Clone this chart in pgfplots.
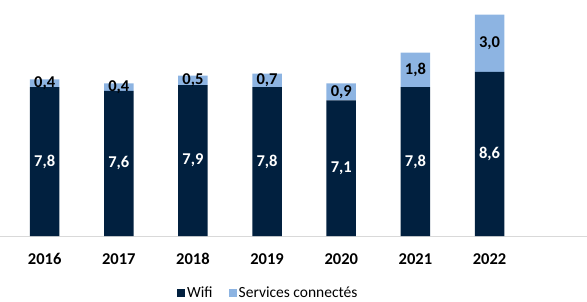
\documentclass[border=0pt]{standalone}
\usepackage{pgfplots}
\pgfplotsset{compat=1.18}
\usepackage{fontspec}
\setmainfont{Carlito}
\definecolor{navy}{HTML}{01203F}
\definecolor{lblue}{HTML}{8DB4E2}
\begin{document}
\begin{tikzpicture}
\pgfplotsset{common/.style={width=587pt,height=236pt,scale only axis,xmin=-0.603,xmax=7.315,ymin=0,ymax=12.36,clip=false}}
\begin{axis}[common, ybar stacked, bar width=29.5pt,
  axis x line=bottom, axis y line=none,
  x axis line style={-, draw=black!15, line width=1pt},
  xtick={0,1,2,3,4,5,6},
  xticklabels={2016,2017,2018,2019,2020,2021,2022},
  major tick length=0pt,
  xticklabel style={font=\bfseries\fontsize{16.5}{16.5}\selectfont, yshift=-14pt},
  legend columns=2,
  legend style={draw=none, at={(axis description cs:0.457,-0.242)}, anchor=center,
    font=\fontsize{15.5}{16}\selectfont,
    /tikz/every even column/.append style={column sep=14pt}},
  legend image code/.code={\fill[#1] (0pt,-4pt) rectangle (8pt,4pt);},
]
\addplot[fill=navy, draw=none] coordinates {(0,7.8)(1,7.6)(2,7.9)(3,7.8)(4,7.1)(5,7.8)(6,8.6)};
\addplot[fill=lblue, draw=none] coordinates {(0,0.4)(1,0.4)(2,0.5)(3,0.7)(4,0.9)(5,1.8)(6,3.0)};
\legend{Wifi, Services connectés}
\end{axis}
\begin{axis}[common, hide axis]
\addplot[only marks, mark=none, nodes near coords, point meta=explicit symbolic,
  nodes near coords style={anchor=center, text=white, font=\bfseries\fontsize{16.5}{16.5}\selectfont}]
  table[meta=lab] {
x y lab
0 3.9 7,8
1 3.8 7,6
2 3.95 7,9
3 3.9 7,8
4 3.55 7,1
5 3.9 7,8
6 4.3 8,6
};
\addplot[only marks, mark=none, nodes near coords, point meta=explicit symbolic,
  nodes near coords style={anchor=center, text=black, font=\bfseries\fontsize{16.5}{16.5}\selectfont}]
  table[meta=lab] {
x y lab
0 8.0 0,4
1 7.8 0,4
2 8.15 0,5
3 8.15 0,7
4 7.55 0,9
5 8.7 1,8
6 10.1 3,0
};
\end{axis}
\pgfresetboundingbox
\useasboundingbox (0,-65pt) rectangle (587pt,236pt);
\end{tikzpicture}
\end{document}
